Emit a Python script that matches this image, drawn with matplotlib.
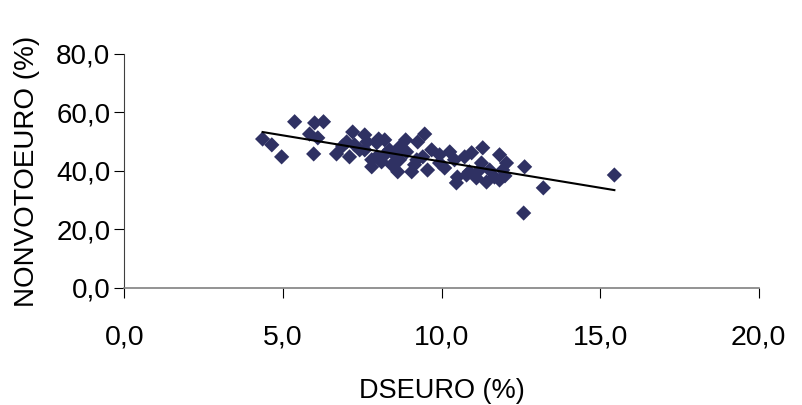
import numpy as np
import matplotlib
matplotlib.use('Agg')
import matplotlib.pyplot as plt
import matplotlib.ticker as ticker

plt.rcParams['font.family'] = ['Liberation Sans', 'DejaVu Sans']

# DSEURO (%) vs NONVOTOEURO (%)
dseuro = [4.36, 4.65, 4.96, 5.37, 6.00, 6.28, 5.84, 6.10, 5.97, 6.69,
          7.01, 7.10, 7.20, 6.88, 7.58, 7.42, 7.96, 7.80, 7.96, 7.65,
          8.11, 7.80, 8.02, 8.68, 8.87, 8.68, 8.62, 9.06, 9.25, 9.47,
          9.41, 9.56, 9.22, 8.90, 8.36, 8.43, 9.69, 10.26, 10.10, 10.73,
          10.95, 11.30, 11.26, 11.83, 12.05, 12.62, 10.88, 10.50, 11.67, 11.52,
          13.21, 12.59, 15.45, 10.47, 10.79, 11.83, 11.93, 9.94, 10.41, 7.26,
          8.21, 8.52, 9.15, 8.21, 11.20, 9.94, 7.58, 11.42, 12.00, 11.10]
nonvoto = [50.9, 48.9, 44.8, 56.8, 56.4, 56.8, 52.6, 51.3, 45.8, 45.8,
           49.9, 44.8, 53.3, 48.5, 52.3, 47.2, 49.6, 43.8, 44.8, 49.9,
           43.1, 41.4, 50.9, 48.2, 50.6, 43.8, 39.7, 39.7, 49.9, 52.6,
           44.8, 40.3, 43.8, 46.5, 47.2, 42.1, 47.2, 46.5, 41.0, 44.8,
           46.2, 47.9, 42.7, 45.5, 42.7, 41.4, 39.7, 37.9, 37.9, 40.3,
           34.2, 25.6, 38.6, 35.9, 38.6, 36.9, 40.3, 45.5, 43.8, 48.9,
           45.5, 45.5, 42.1, 50.6, 40.3, 42.7, 47.2, 36.2, 38.3, 37.6]

x_ticks = [0, 5, 10, 15, 20]
y_ticks = [0, 20, 40, 60, 80]

x = np.array(dseuro)
y = np.array(nonvoto)
slope, intercept = np.polyfit(x, y, 1)
xfit = np.array([x.min(), x.max()])

fig = plt.figure(figsize=(8.02, 4.05), dpi=100)
ax = fig.add_axes([0.155, 0.289, 0.791, 0.578])
ax.scatter(x, y, marker='D', s=60, color='#2f3163', edgecolors='none', zorder=2)
ax.plot(xfit, slope * xfit + intercept, color='black', linewidth=1.5, zorder=3)

ax.set_xlim(0, 20)
ax.set_ylim(0, 80)
ax.set_xticks(x_ticks)
ax.set_yticks(y_ticks)
fmt = ticker.FuncFormatter(lambda v, p: ('%.1f' % v).replace('.', ','))
ax.xaxis.set_major_formatter(fmt)
ax.yaxis.set_major_formatter(fmt)
ax.spines['top'].set_visible(False)
ax.spines['right'].set_visible(False)
ax.spines['bottom'].set_color('#808080')
ax.spines['bottom'].set_linewidth(1.2)
ax.spines['left'].set_color('#404040')
ax.tick_params(axis='x', direction='out', length=7, width=0.8, pad=19, labelsize=20.5)
ax.tick_params(axis='y', direction='out', length=7, width=0.8, pad=3, labelsize=20)
ax.set_xlabel('DSEURO (%)', fontsize=19.5, labelpad=20)
ax.set_ylabel('NONVOTOEURO (%)', fontsize=20, labelpad=12)

fig.savefig('out.png', dpi=100)
